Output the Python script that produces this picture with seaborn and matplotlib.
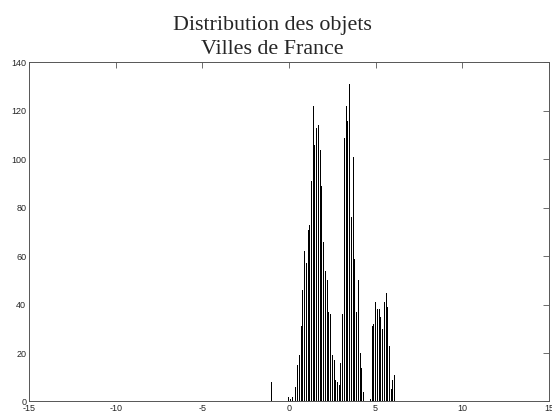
import matplotlib
matplotlib.use('Agg')
from matplotlib import pyplot as plt
import seaborn as sns
import numpy as np

# bin centres (object value) and counts
bin_x = [-1.0, 0.0, 0.1, 0.2,
         0.4, 0.5, 0.6, 0.7, 0.8, 0.9, 1.0, 1.1, 1.2, 1.3,
         1.4, 1.5, 1.6, 1.7, 1.8, 1.9, 2.0, 2.1, 2.2, 2.3,
         2.4, 2.5, 2.6, 2.7, 2.8, 2.9, 3.0, 3.1, 3.2, 3.3,
         3.4, 3.5, 3.6, 3.7, 3.8, 3.9, 4.0, 4.1, 4.2, 4.3,
         4.7, 4.8, 4.9, 5.0, 5.1, 5.2, 5.3, 5.4, 5.5, 5.6,
         5.7, 5.8, 5.9, 6.0, 6.1]
counts = [8, 2, 1, 2,
          6, 15, 19, 31, 46, 62, 57, 71, 73, 91,
          122, 106, 113, 114, 104, 89, 66, 54, 50, 37,
          36, 19, 17, 9, 8, 7, 16, 36, 109, 122,
          116, 131, 76, 101, 59, 37, 50, 20, 14, 4,
          1, 31, 32, 41, 38, 38, 35, 30, 41, 45,
          39, 23, 5, 9, 11]

x_ticks = [-15, -10, -5, 0, 5, 10, 15]
y_ticks = [0, 20, 40, 60, 80, 100, 120, 140]
title_txt = 'Distribution des objets\nVilles de France'


def PlotAll(outfile):
    sns.set_style('white')
    plt.rcParams['font.family'] = ['Liberation Sans', 'DejaVu Sans']
    plt.rcParams['axes.unicode_minus'] = False
    fig = plt.figure(figsize=(5.52, 4.16), dpi=100)
    axe = fig.add_axes([0.0525, 0.0349, 0.942, 0.815])
    sns.histplot(x=bin_x, weights=counts, binwidth=0.1, binrange=(-1.05, 6.15),
                 shrink=0.6, color='black', edgecolor='none', alpha=1,
                 linewidth=0, ax=axe)
    axe.set_xlim(-15, 15)
    axe.set_ylim(0, 140)
    axe.set_xticks(x_ticks)
    axe.set_yticks(y_ticks)
    axe.set_xlabel('')
    axe.set_ylabel('')
    for sp in axe.spines.values():
        sp.set_visible(True)
        sp.set_color('#555555')
        sp.set_linewidth(0.7)
    axe.tick_params(direction='in', length=4, width=0.6, color='#555555',
                    labelsize=6.5, top=True, right=True, pad=2)
    fig.text(0.494, 0.91, title_txt, ha='center', va='center',
             family='Liberation Serif', fontsize=15.8, linespacing=1.38)
    plt.savefig(outfile, dpi=100)


PlotAll('out.png')
